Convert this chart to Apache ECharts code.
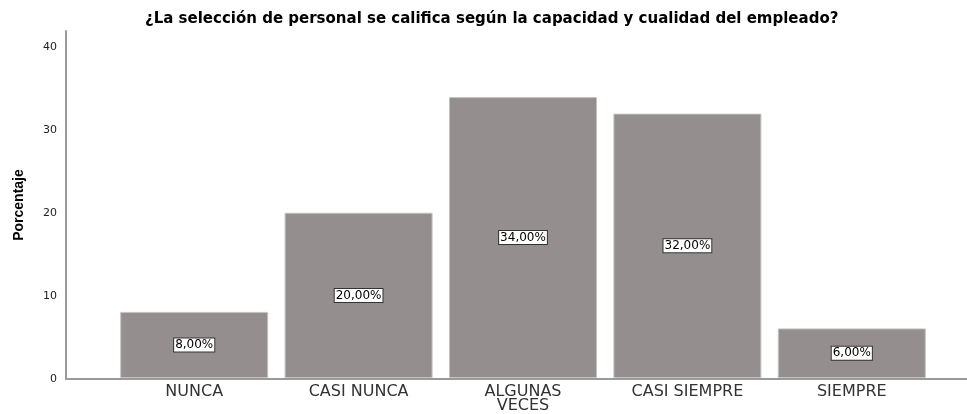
<!DOCTYPE html>
<html>
<head>
<meta charset="utf-8">
<script src="https://cdn.jsdelivr.net/npm/echarts@6/dist/echarts.min.js"></script>
<style>
  html, body { margin: 0; padding: 0; background: #fff; }
  #chart { width: 967px; height: 414px; }
</style>
</head>
<body>
<div id="chart"></div>
<script>
var categorias = ['NUNCA', 'CASI NUNCA', 'ALGUNAS VECES', 'CASI SIEMPRE', 'SIEMPRE'];
var porcentajes = [8, 20, 34, 32, 6];
var yTicks = [0, 10, 20, 30, 40];

var chart = echarts.init(document.getElementById('chart'), null, {renderer: 'canvas'});

var option = {
    backgroundColor: '#fff',
    animation: false,
    title: {
        text: '¿La selección de personal se califica según la capacidad y cualidad del empleado?',
        left: 140,
        top: 7,
        textStyle: {
            fontFamily: 'DejaVu Sans, sans-serif',
            fontSize: 15,
            fontWeight: 'bold',
            color: '#000'
        }
    },
    grid: [
        // barras
        {left: 112, right: 33, top: 31, bottom: 35},
        // ejes visibles
        {left: 66, right: 0, top: 31, bottom: 35}
    ],
    xAxis: [{
        type: 'category',
        gridIndex: 0,
        data: categorias,
        axisLine: {show: false},
        axisTick: {show: false},
        axisLabel: {
            interval: 0,
            margin: 7,
            fontFamily: 'DejaVu Sans, sans-serif',
            fontSize: 16,
            lineHeight: 14,
            color: '#333',
            formatter: function (v) {
                return v === 'ALGUNAS VECES' ? 'ALGUNAS\nVECES' : v;
            }
        }
    }, {
        type: 'value',
        gridIndex: 1,
        min: 0,
        max: 1,
        axisLine: {show: true, lineStyle: {color: '#9a9a9a', width: 2}},
        axisTick: {show: false},
        axisLabel: {show: false},
        splitLine: {show: false}
    }],
    yAxis: [{
        type: 'value',
        gridIndex: 0,
        min: 0,
        max: 42,
        show: false
    }, {
        type: 'value',
        gridIndex: 1,
        min: yTicks[0],
        max: 42,
        interval: 10,
        name: 'Porcentaje',
        nameLocation: 'middle',
        nameGap: 40,
        nameTextStyle: {
            fontFamily: 'Liberation Sans Narrow, Arial Narrow, sans-serif',
            fontSize: 14,
            fontWeight: 'bold',
            color: '#000'
        },
        axisLine: {show: true, lineStyle: {color: '#9a9a9a', width: 2}},
        axisTick: {show: false},
        splitLine: {show: false},
        axisLabel: {
            margin: 9,
            fontFamily: 'DejaVu Sans, sans-serif',
            fontSize: 11,
            color: '#222',
            showMaxLabel: false,
            formatter: function (v) {
                return yTicks.indexOf(v) >= 0 ? String(v) : '';
            }
        }
    }],
    series: [{
        type: 'bar',
        xAxisIndex: 0,
        yAxisIndex: 0,
        data: porcentajes,
        barWidth: 148,
        itemStyle: {
            color: '#948f8e',
            borderColor: '#c4c2c1',
            borderWidth: 1
        },
        label: {
            show: true,
            position: 'inside',
            formatter: function (p) {
                return p.value.toFixed(2).replace('.', ',') + '%';
            },
            fontFamily: 'DejaVu Sans, sans-serif',
            fontSize: 12,
            color: '#000',
            backgroundColor: '#fff',
            borderColor: '#333',
            borderWidth: 1,
            padding: [1, 1, 0, 1]
        }
    }]
};

chart.setOption(option);
</script>
</body>
</html>
